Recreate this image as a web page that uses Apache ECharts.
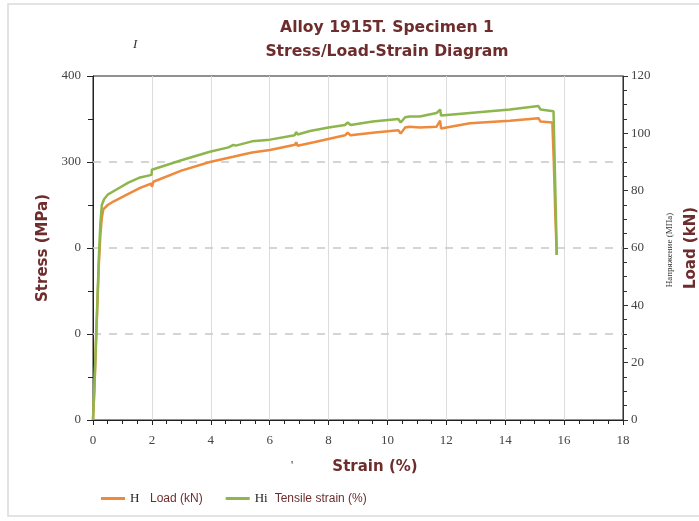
<!DOCTYPE html>
<html>
<head>
<meta charset="utf-8">
<script src="https://cdn.jsdelivr.net/npm/echarts@6/dist/echarts.min.js"></script>
<style>html,body{margin:0;padding:0;background:#fff;overflow:hidden}#c{width:699px;height:521px}</style>
</head>
<body>
<div id="c"></div>
<script>
// Orange curve: Load (kN) on right axis
var loadStrain = [0,0.05,0.1,0.15,0.2,0.25,0.3,0.35,0.5,0.69,1.2,1.6,1.99,2.0,2.05,3,3.97,4.76,5.4,6.01,6.86,6.9,6.95,7.5,8.56,8.65,8.75,9.5,10.37,10.45,10.6,10.75,11.1,11.67,11.79,11.82,12.8,14.16,15.13,15.2,15.6,15.65,15.7,15.75];
var loadKN = [0,11.4,26.4,40.5,54.6,64.5,70.5,73.5,75,76.2,78.9,81,82.5,81.3,83.1,87,90,91.8,93.3,94.2,96,96.9,95.7,96.9,99.3,100.2,99.3,100.2,101.1,99.9,102,102.3,102,102.3,104.4,101.7,103.5,104.4,105.3,104.1,103.8,90,72,57.6];
// Green curve: stress (MPa) on left axis
var tensStrain = [0,0.05,0.1,0.15,0.2,0.25,0.3,0.38,0.5,0.8,1.2,1.6,1.99,2.0,3,3.97,4.6,4.77,4.85,5.4,6.01,6.85,6.9,6.95,7.37,8.0,8.56,8.65,8.75,9.5,10.37,10.45,10.6,10.75,11.1,11.67,11.79,11.82,12.8,14.16,15.13,15.2,15.64,15.68,15.72,15.75];
var stressMPa = [0,40,90,140,190,228,250,257,262,268,276,282,285,291,302,312,317,320,319,324,326,331,335,332,336,340,343,346,343,347,350,346,352,353,353,357,361,354,357,361,365,361,359,300,240,192];
var leftTickLabels = ['0','0','0','300','400'];
var dashedLevels = [100, 200, 300];
var xName = 'Strain (%)';
var leftName = 'Stress (MPa)';
var rightName = 'Load (kN)';
var seriesNames = ['Load (kN)', 'Tensile strain (%)'];
var legendPrefix = ['H', 'Hi'];

function zip(a, b) { var r = []; for (var i = 0; i < a.length; i++) r.push([a[i], b[i]]); return r; }

var maroon = '#6e2d2d';
var serif = '"Liberation Serif","DejaVu Serif",serif';
var chart = echarts.init(document.getElementById('c'));
chart.setOption({
  animation: false,
  backgroundColor: '#fff',
  title: {
    text: 'Alloy 1915T. Specimen 1\nStress/Load-Strain Diagram',
    left: 382, top: 11, textAlign: 'center',
    textStyle: { color: maroon, fontSize: 15.6, fontWeight: 'bold', fontFamily: '"DejaVu Sans",sans-serif', lineHeight: 24 }
  },
  grid: { left: 93, right: 76, top: 76, bottom: 101, containLabel: false, outerBoundsMode: 'none', show: true, borderColor: '#222', borderWidth: 1, backgroundColor: 'transparent' },
  legend: {
    left: 96, top: 487, itemWidth: 24, itemHeight: 3, icon: 'rect', itemGap: 23,
    data: seriesNames,
    formatter: function (n) { var i = seriesNames.indexOf(n); return '{h|' + legendPrefix[i] + '}{t|' + n + '}'; },
    textStyle: {
      rich: {
        h: { fontFamily: serif, fontSize: 13, color: '#222', width: 20 },
        t: { fontFamily: '"Liberation Sans",sans-serif', fontSize: 12, color: maroon }
      }
    }
  },
  xAxis: {
    type: 'value', min: 0, max: 18, interval: 2,
    name: xName, nameLocation: 'middle', nameGap: 40,
    nameTextStyle: { color: maroon, fontSize: 15, fontWeight: 'bold', fontFamily: '"DejaVu Sans",sans-serif', padding: [0, 0, 0, 34] },
    axisLine: { show: true, lineStyle: { color: '#222', width: 1 } },
    axisTick: { show: true, length: 5, lineStyle: { color: '#222' } },
    minorTick: { show: true, splitNumber: 4, length: 4, lineStyle: { color: '#222' } },
    axisLabel: { color: '#444', fontFamily: serif, fontSize: 13, margin: 14 },
    splitLine: { show: true, lineStyle: { color: '#dcdcdc', width: 1 } }
  },
  yAxis: [{
    type: 'value', min: 0, max: 400, interval: 100, position: 'left',
    name: leftName, nameLocation: 'middle', nameGap: 36, nameRotate: 90,
    nameTextStyle: { color: maroon, fontSize: 15, fontWeight: 'bold', fontFamily: '"DejaVu Sans",sans-serif' },
    axisLine: { show: true, lineStyle: { color: '#222', width: 1 } },
    axisTick: { show: true, length: 6, lineStyle: { color: '#222' } },
    minorTick: { show: true, splitNumber: 2, length: 5, lineStyle: { color: '#222' } },
    axisLabel: { color: '#444', fontFamily: serif, fontSize: 13, margin: 12, formatter: function (v) { return leftTickLabels[Math.round(v / 100)]; } },
    splitLine: { show: false }
  }, {
    type: 'value', min: 0, max: 120, interval: 20, position: 'right',
    name: rightName, nameLocation: 'middle', nameGap: 61, nameRotate: 90,
    nameTextStyle: { color: maroon, fontSize: 15, fontWeight: 'bold', fontFamily: '"DejaVu Sans",sans-serif' },
    axisLine: { show: true, lineStyle: { color: '#333', width: 1 } },
    axisTick: { show: true, length: 5, lineStyle: { color: '#333' } },
    minorTick: { show: true, splitNumber: 4, length: 4, lineStyle: { color: '#333' } },
    axisLabel: { color: '#444', fontFamily: serif, fontSize: 13, margin: 8 },
    splitLine: { show: false }
  }],
  graphic: [
    { type: 'rect', shape: { x: 8, y: 4, width: 740, height: 512 }, style: { fill: 'none', stroke: '#dadada', lineWidth: 1.5 }, silent: true },
    { type: 'text', x: 133, y: 38, style: { text: 'I', font: 'italic 13px "Liberation Serif"', fill: '#333' } },
    { type: 'text', x: 291, y: 460, style: { text: "'", font: '12px "Liberation Serif"', fill: '#333' } },
    { type: 'text', x: 670, y: 250, rotation: Math.PI / 2, style: { text: 'Напряжение (МПа)', font: '9px "Liberation Serif"', fill: '#333', align: 'center', verticalAlign: 'middle' } }
  ],
  series: [{
    name: seriesNames[0], type: 'line', yAxisIndex: 1, data: zip(loadStrain, loadKN),
    showSymbol: false, symbol: 'none', lineStyle: { color: '#ee8a3c', width: 2.5 }, itemStyle: { color: '#ee8a3c' }, z: 3
  }, {
    name: seriesNames[1], type: 'line', yAxisIndex: 0, data: zip(tensStrain, stressMPa),
    showSymbol: false, symbol: 'none', lineStyle: { color: '#8db64c', width: 2.5 }, itemStyle: { color: '#8db64c' }, z: 4,
    markLine: {
      silent: true, symbol: 'none', label: { show: false }, z: 1,
      lineStyle: { color: '#c8c8c8', type: [8, 8], width: 1.5 },
      data: dashedLevels.map(function (v) { return { yAxis: v }; })
    }
  }]
});
</script>
</body>
</html>
